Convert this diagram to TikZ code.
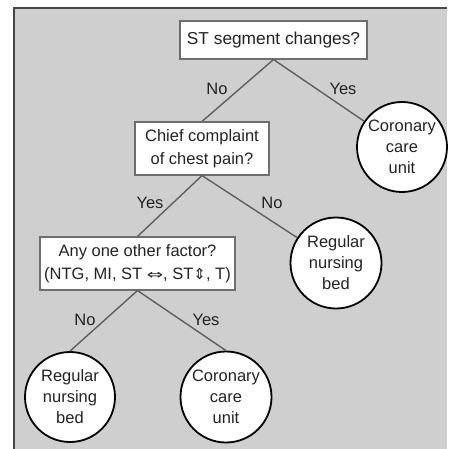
\documentclass[tikz,border=0pt]{standalone}
\usepackage{graphicx}
\usepackage{fontspec}
\setmainfont{Liberation Sans}
\newfontfamily\symfont{DejaVu Sans}
\definecolor{panelgray}{RGB}{207,207,207}
\definecolor{framegray}{RGB}{70,70,70}
\definecolor{linegray}{RGB}{95,95,95}
\definecolor{boxgray}{RGB}{110,110,110}
\definecolor{txt}{RGB}{35,35,35}
\begin{document}
\begin{tikzpicture}[x=1pt,y=-1pt,
  every node/.style={text=txt,font=\fontsize{16.5}{21}\selectfont},
  qbox/.style={draw=boxgray,line width=1.1pt,fill=white,align=center,inner sep=2pt,
    font=\fontsize{16.5}{23}\selectfont},
  leaf/.style={circle,draw=black,line width=1.8pt,fill=white,align=center,inner sep=0pt,minimum size=90pt},
  conn/.style={draw=linegray,line width=1.4pt},
  lab/.style={inner sep=0pt}]
\useasboundingbox (0,0) rectangle (448,449);
\fill[panelgray] (13.5,8.5) rectangle (446.5,449);
\draw[framegray,line width=2pt] (13.5,449) -- (13.5,8.5) -- (446.5,8.5);

\node[qbox,minimum width=187pt,minimum height=38pt,font=\fontsize{17.3}{23}\selectfont] (top) at (273.5,40) {ST segment changes?};
\node[qbox,minimum width=134pt,minimum height=53pt] (chief) at (202,148.5) {Chief complaint\\of chest pain?};
\node[qbox,minimum width=195pt,minimum height=53pt] (any) at (137.5,263.5) {Any one other factor?\\(NTG, MI, ST {\symfont\fontsize{15}{15}\selectfont\scalebox{1.3}[0.9]{⇔}}, ST{\symfont\fontsize{15}{15}\selectfont ⇕}, T)};

\node[leaf] (ccu1) at (402,147) {Coronary\\care\\unit};
\node[leaf,minimum size=91pt] (rnb1) at (336,263) {Regular\\nursing\\bed};
\node[leaf] (rnb2) at (70,397) {Regular\\nursing\\bed};
\node[leaf,minimum size=91pt] (ccu2) at (226,397) {Coronary\\care\\unit};

\draw[conn] (top.south) -- (chief.north);
\draw[conn] (top.south) -- (ccu1);
\draw[conn] (chief.south) -- (any.north);
\draw[conn] (chief.south) -- (rnb1);
\draw[conn] (any.south) -- (rnb2.north);
\draw[conn] (any.south) -- (ccu2.north);

\node[lab] (l1) at (217,89) {No};
\node[lab] (l2) at (343,89) {Yes};
\node[lab] (l3) at (150,203) {Yes};
\node[lab] (l4) at (272,203) {No};
\node[lab] (l5) at (85,320) {No};
\node[lab] (l6) at (206,320) {Yes};
\end{tikzpicture}
\end{document}
